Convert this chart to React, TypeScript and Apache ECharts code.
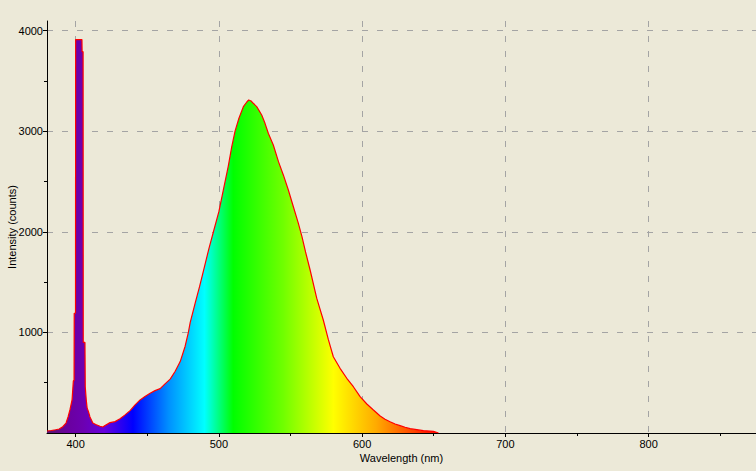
import React, { useEffect, useRef } from "react";
import * as echarts from "echarts";

const wavelengths = [
  380, 383, 386, 388.5, 391, 393.3, 394.7, 396, 397.5, 398.4, 398.9, 399.0, 399.9,
  400.0, 404.4, 404.5, 405.2, 405.3, 406.5, 406.7, 407.4, 408, 409, 410, 412, 414,
  417, 419, 420.5, 424, 427.5, 431, 434.5, 438, 441.5, 445, 448.4, 452, 455.4, 459,
  462.4, 466, 469.4, 473, 476.4, 478.7, 480, 483.4, 486.5, 490, 493, 496.2, 500,
  503.1, 506.5, 509, 511.3, 514, 517.1, 519.5, 520.8, 522.5, 524, 526.4, 529.9,
  532.2, 534.5, 538, 541.6, 545, 548.5, 552, 555.5, 558, 560.5, 563.7, 568.3, 572.9,
  576.4, 579.9, 584.6, 589.3, 593.9, 598.6, 603.3, 607.9, 612.6, 616, 619.5, 623,
  626.5, 630, 633.5, 638.2, 642.8, 649.8, 653.3,
];
const intensities = [
  20, 25, 32, 40, 63, 99, 159, 229, 328, 520, 520, 1190, 1190,
  3910, 3910, 3790, 3790, 900, 900, 460, 330, 250, 210, 160, 100, 85,
  67, 60, 75, 103, 113, 142, 180, 222, 279, 329, 362, 395, 421, 441,
  488, 535, 611, 710, 860, 1000, 1100, 1289, 1454, 1657, 1830, 2000, 2200,
  2415, 2647, 2846, 3000, 3128, 3243, 3290, 3310, 3300, 3277, 3244, 3161,
  3078, 2979, 2863, 2697, 2565, 2415, 2249, 2084, 1951, 1800, 1620, 1340, 1123,
  930, 758, 643, 544, 460, 361, 288, 229, 169, 136, 112, 89,
  73, 57, 43, 33, 23, 17, 0,
];
const xMajorTicks = [400, 500, 600, 700, 800];
const xMinorTicks = [450, 550, 650, 750, 850];
const yMajorTicks = [1000, 2000, 3000, 4000];
const yMinorTicks = [500, 1500, 2500, 3500];

const X_MIN = 380;
const X_MAX = 875;
const Y_MAX = 4095;

const spectrumStops: [number, string][] = [
  [380, "#5a1670"],
  [395, "#6a00a0"],
  [405, "#6c00b0"],
  [420, "#6600dd"],
  [440, "#0000ff"],
  [465, "#0090ff"],
  [490, "#00ffff"],
  [510, "#00ff00"],
  [545, "#70ff00"],
  [580, "#ffff00"],
  [610, "#ffaa00"],
  [645, "#ff2000"],
  [660, "#ff0000"],
  [875, "#ff0000"],
];

const FONT = "Liberation Sans";

export default function App() {
  const ref = useRef<HTMLDivElement>(null);
  useEffect(() => {
    document.body.style.margin = "0";
    if (!ref.current) return;
    const chart = echarts.init(ref.current, null, { renderer: "svg" });
    const gridLeft = 47;
    const gridRight = 0;
    const width = 756;
    const data = wavelengths.map((w, i) => [w, intensities[i]]);
    const gradient = new echarts.graphic.LinearGradient(
      gridLeft,
      0,
      width - gridRight,
      0,
      spectrumStops.map(([w, c]) => ({ offset: (w - X_MIN) / (X_MAX - X_MIN), color: c })),
      true
    );
    const fmt = (v: number) => String(v);
    const gridLine = { show: true, lineStyle: { color: "#a4a4a4", type: [6, 9] as any, width: 1 } };
    chart.setOption({
      animation: false,
      backgroundColor: "#ECE9D8",
      grid: {
        left: gridLeft,
        right: gridRight,
        top: 21,
        bottom: 38,
        containLabel: false,
        outerBoundsMode: "none",
      },
      xAxis: [
        {
          type: "value",
          min: X_MIN,
          max: X_MAX,
          position: "bottom",
          name: "Wavelength (nm)",
          nameLocation: "middle",
          nameGap: 19,
          nameMoveOverlap: false,
          nameTextStyle: { fontFamily: FONT, fontSize: 11, color: "#000" },
          axisLine: { show: true, lineStyle: { color: "#000", width: 1 } },
          axisTick: { show: true, length: 4, customValues: xMajorTicks, lineStyle: { color: "#000" } },
          axisLabel: {
            customValues: xMajorTicks,
            formatter: fmt,
            margin: 5,
            fontFamily: FONT,
            fontSize: 11,
            color: "#000",
          },
          splitLine: gridLine,
        },
        {
          type: "value",
          min: X_MIN,
          max: X_MAX,
          position: "bottom",
          axisLine: { show: false },
          axisTick: { show: true, length: 3, customValues: xMinorTicks, lineStyle: { color: "#000" } },
          axisLabel: { show: false },
          splitLine: { show: false },
        },
      ],
      yAxis: [
        {
          type: "value",
          min: 0,
          max: Y_MAX,
          position: "left",
          name: "Intensity (counts)",
          nameLocation: "middle",
          nameGap: 30,
          nameMoveOverlap: false,
          nameTextStyle: { fontFamily: FONT, fontSize: 11, color: "#000" },
          axisLine: { show: true, lineStyle: { color: "#000", width: 1 } },
          axisTick: { show: true, length: 4, customValues: yMajorTicks, lineStyle: { color: "#000" } },
          axisLabel: {
            customValues: yMajorTicks,
            formatter: fmt,
            margin: 4,
            fontFamily: FONT,
            fontSize: 11,
            color: "#000",
          },
          splitLine: gridLine,
        },
        {
          type: "value",
          min: 0,
          max: Y_MAX,
          position: "left",
          axisLine: { show: false },
          axisTick: { show: true, length: 3, customValues: yMinorTicks, lineStyle: { color: "#000" } },
          axisLabel: { show: false },
          splitLine: { show: false },
        },
      ],
      series: [
        {
          type: "line",
          xAxisIndex: 0,
          yAxisIndex: 0,
          data,
          showSymbol: false,
          symbol: "none",
          lineStyle: { color: "#ff0000", width: 1.2 },
          areaStyle: { color: gradient, opacity: 1 },
          silent: true,
        },
      ],
    });
    return () => chart.dispose();
  }, []);
  return <div ref={ref} style={{ width: 756, height: 471 }} />;
}
